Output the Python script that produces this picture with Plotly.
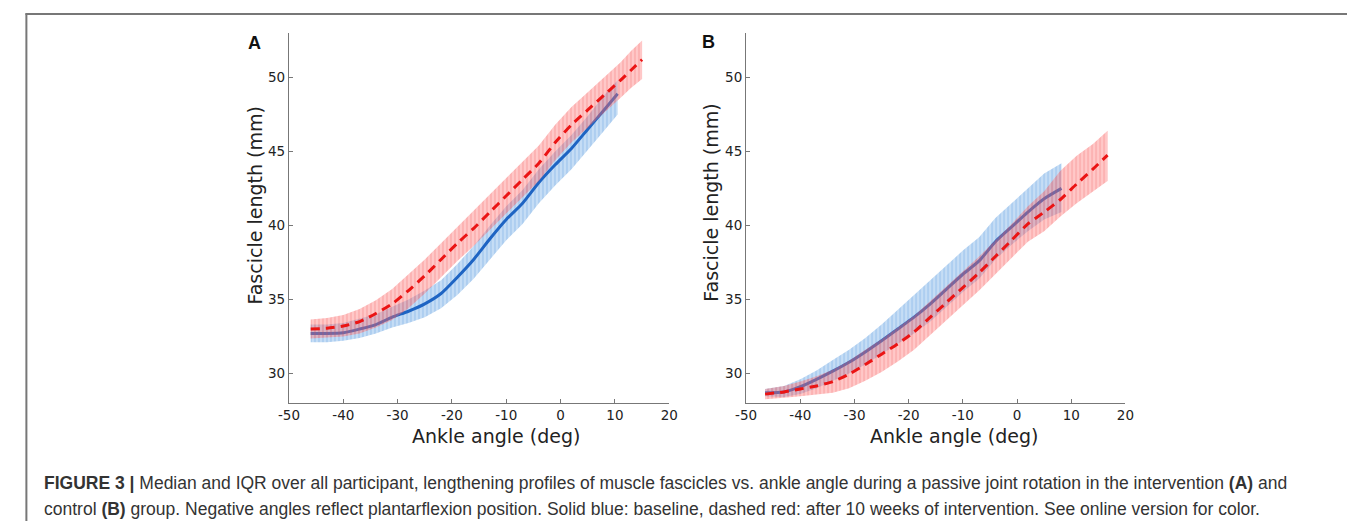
import plotly.graph_objects as go

W, H = 1355, 521

# ---------------- data ----------------
# Panel A (intervention) - baseline (solid blue)
a_base_x = [-46, -43, -40, -37, -34, -31, -28, -25, -22, -19, -16, -13, -10, -7, -4, -1, 2, 5, 8, 10.5]
a_base_med = [32.7, 32.7, 32.75, 33.0, 33.3, 33.8, 34.2, 34.7, 35.4, 36.5, 37.7, 39.1, 40.4, 41.5, 42.9, 44.1, 45.2, 46.5, 47.8, 48.9]
a_base_lo = [32.1, 32.1, 32.2, 32.4, 32.7, 33.1, 33.4, 33.8, 34.4, 35.3, 36.4, 37.7, 39.0, 40.1, 41.5, 42.7, 43.8, 45.1, 46.4, 47.5]
a_base_hi = [33.3, 33.3, 33.4, 33.7, 34.0, 34.5, 35.0, 35.6, 36.3, 37.4, 38.6, 40.0, 41.3, 42.4, 43.8, 45.0, 46.1, 47.4, 48.8, 49.8]

# Panel A - after 10 weeks (dashed red)
a_post_x = [-46, -43, -40, -37, -34, -31, -28, -25, -22, -19, -16, -13, -10, -7, -4, -1, 2, 5, 8, 11, 13, 15]
a_post_med = [33.0, 33.05, 33.2, 33.5, 34.05, 34.7, 35.6, 36.6, 37.7, 38.8, 39.8, 40.9, 42.0, 43.1, 44.2, 45.6, 46.8, 47.8, 48.8, 49.8, 50.5, 51.2]
a_post_lo = [32.35, 32.4, 32.5, 32.7, 33.1, 33.6, 34.4, 35.4, 36.5, 37.6, 38.6, 39.7, 40.8, 41.9, 43.0, 44.4, 45.6, 46.6, 47.6, 48.6, 49.3, 49.9]
a_post_hi = [33.65, 33.75, 33.95, 34.35, 34.95, 35.7, 36.7, 37.7, 38.8, 39.9, 41.0, 42.1, 43.2, 44.3, 45.4, 46.8, 48.0, 49.0, 50.0, 51.0, 51.8, 52.5]

# Panel B (control) - baseline (solid blue)
b_base_x = [-46.5, -43, -40, -37, -34, -31, -28, -25, -22, -19, -16, -13, -10, -7, -4, -1, 2, 5, 8.2]
b_base_med = [28.7, 28.75, 29.1, 29.6, 30.15, 30.75, 31.45, 32.2, 33.0, 33.8, 34.7, 35.7, 36.7, 37.6, 38.9, 39.9, 40.9, 41.8, 42.5]
b_base_lo = [28.45, 28.4, 28.6, 29.0, 29.5, 30.0, 30.6, 31.3, 32.0, 32.7, 33.5, 34.5, 35.5, 36.4, 37.7, 38.7, 39.6, 40.4, 40.9]
b_base_hi = [28.95, 29.15, 29.6, 30.2, 30.9, 31.6, 32.4, 33.3, 34.3, 35.3, 36.3, 37.3, 38.3, 39.2, 40.5, 41.5, 42.5, 43.5, 44.2]

# Panel B - after 10 weeks (dashed red)
b_post_x = [-46.5, -43, -40, -37, -34, -31, -28, -25, -22, -19, -16, -13, -10, -7, -4, -1, 2, 5, 8, 11, 14, 16.7]
b_post_med = [28.6, 28.75, 28.95, 29.15, 29.45, 29.95, 30.6, 31.3, 32.0, 32.8, 33.8, 34.8, 35.8, 36.8, 37.9, 39.0, 40.1, 40.9, 41.75, 42.8, 43.8, 44.75]
b_post_lo = [28.25, 28.35, 28.45, 28.55, 28.7, 29.0, 29.5, 30.1, 30.8, 31.6, 32.6, 33.6, 34.6, 35.6, 36.7, 37.8, 38.9, 39.6, 40.6, 41.5, 42.3, 43.0]
b_post_hi = [28.95, 29.15, 29.45, 29.8, 30.25, 30.85, 31.6, 32.3, 33.1, 33.9, 34.9, 35.9, 36.9, 37.9, 39.0, 40.1, 41.3, 42.3, 43.7, 44.7, 45.5, 46.4]

x_tick_vals = [-50, -40, -30, -20, -10, 0, 10, 20]
x_tick_labels = ["-50", "-40", "-30", "-20", "-10", "0", "10", "20"]
y_tick_vals = [30, 35, 40, 45, 50]
y_tick_labels = ["30", "35", "40", "45", "50"]

x_title = "Ankle angle (deg)"
y_title = "Fascicle length (mm)"
panel_labels = ["A", "B"]
caption_line1 = ("<b>FIGURE 3 |</b> Median and IQR over all participant, lengthening profiles of muscle fascicles vs. "
                 "ankle angle during a passive joint rotation in the intervention <b>(A)</b> and")
caption_line2 = ("control <b>(B)</b> group. Negative angles reflect plantarflexion position. Solid blue: baseline, "
                 "dashed red: after 10 weeks of intervention. See online version for color.")

# ---------------- styles ----------------
BLUE_LINE = "rgb(30,100,195)"
RED_LINE = "rgb(235,20,20)"
BLUE_FILL = "rgba(110,170,230,0.40)"
BLUE_HATCH = "rgba(70,140,215,0.55)"
RED_FILL = "rgba(255,110,110,0.38)"
RED_HATCH = "rgba(235,70,70,0.45)"

fig = go.Figure()


def band(x, lo, hi, fill, hatch, xa, ya):
    px = list(x) + list(x)[::-1]
    py = list(hi) + list(lo)[::-1]
    fig.add_trace(go.Scatter(
        x=px, y=py, mode="lines", line=dict(width=0), fill="toself",
        fillcolor=fill,
        fillpattern=dict(shape="|", fgcolor=hatch, size=4, solidity=0.35, fillmode="overlay"),
        hoverinfo="skip", showlegend=False, xaxis=xa, yaxis=ya))


def median(x, y, color, dash, xa, ya):
    fig.add_trace(go.Scatter(
        x=x, y=y, mode="lines",
        line=dict(color=color, width=3, dash=dash, shape="spline", smoothing=0.6),
        showlegend=False, xaxis=xa, yaxis=ya))


for xa, ya, bx, bm, bl, bh, rx, rm, rl, rh in [
    ("x", "y", a_base_x, a_base_med, a_base_lo, a_base_hi, a_post_x, a_post_med, a_post_lo, a_post_hi),
    ("x2", "y2", b_base_x, b_base_med, b_base_lo, b_base_hi, b_post_x, b_post_med, b_post_lo, b_post_hi),
]:
    band(bx, bl, bh, BLUE_FILL, BLUE_HATCH, xa, ya)
    median(bx, bm, BLUE_LINE, "solid", xa, ya)
    band(rx, rl, rh, RED_FILL, RED_HATCH, xa, ya)
    median(rx, rm, RED_LINE, "9px,6px", xa, ya)

# ---------------- layout ----------------
def px_x(p):
    return p / W


def px_y(p):
    return 1 - p / H


axis_common = dict(
    showline=True, linecolor="#777", linewidth=1.3, mirror=False,
    ticks="inside", ticklen=4, tickcolor="#777", tickwidth=1.2,
    showgrid=False, zeroline=False,
    tickfont=dict(family="DejaVu Sans", size=13.5, color="#222"),
)

ydom = [px_y(395), px_y(25)]
fig.update_layout(
    width=W, height=H, margin=dict(l=0, r=0, t=0, b=0),
    paper_bgcolor="white", plot_bgcolor="white",
    xaxis=dict(domain=[px_x(274), px_x(660)], range=[-50, 20], tickvals=x_tick_vals, ticktext=x_tick_labels,
               anchor="y", **axis_common),
    yaxis=dict(domain=ydom, range=[28, 53], tickvals=y_tick_vals, ticktext=y_tick_labels,
               anchor="x", ticklabelstandoff=0, **axis_common),
    xaxis2=dict(domain=[px_x(738), px_x(1123)], range=[-50, 20], tickvals=x_tick_vals, ticktext=x_tick_labels,
                anchor="y2", **axis_common),
    yaxis2=dict(domain=ydom, range=[28, 53], tickvals=y_tick_vals, ticktext=y_tick_labels,
                anchor="x2", ticklabelstandoff=0, **axis_common),
    showlegend=False,
)

ann = []
title_font = dict(family="DejaVu Sans", size=19, color="#222")
for cx_x, cy_x, cx_y, cy_y, lx, ly, lab in [
    (484, 428, 240, 197, 239, 35, panel_labels[0]),
    (949, 428, 702, 195, 700, 34, panel_labels[1]),
]:
    ann.append(dict(text=x_title, x=px_x(cx_x), y=px_y(cy_x), xref="paper", yref="paper",
                    xanchor="center", yanchor="middle", showarrow=False, font=title_font))
    ann.append(dict(text=y_title, x=px_x(cx_y), y=px_y(cy_y), xref="paper", yref="paper",
                    xanchor="center", yanchor="middle", showarrow=False, textangle=-90, font=title_font))
    ann.append(dict(text="<b>" + lab + "</b>", x=px_x(lx), y=px_y(ly), xref="paper", yref="paper",
                    xanchor="center", yanchor="middle", showarrow=False,
                    font=dict(family="Liberation Sans", size=18, color="#111")))

cap_font = dict(family="Liberation Sans", size=17.5, color="#333")
ann.append(dict(text=caption_line1, x=px_x(23), y=px_y(475), xref="paper", yref="paper",
                xanchor="left", yanchor="middle", showarrow=False, font=cap_font))
ann.append(dict(text=caption_line2, x=px_x(23), y=px_y(501), xref="paper", yref="paper",
                xanchor="left", yanchor="middle", showarrow=False, font=cap_font))
fig.update_layout(annotations=ann)

# frame lines (left and top)
fig.update_layout(shapes=[
    dict(type="line", xref="paper", yref="paper", x0=px_x(7.5), x1=px_x(7.5), y0=0, y1=px_y(5.5),
         line=dict(color="#777", width=2)),
    dict(type="line", xref="paper", yref="paper", x0=px_x(6.5), x1=1, y0=px_y(6), y1=px_y(6),
         line=dict(color="#777", width=2)),
])

fig.write_html("out.html")
